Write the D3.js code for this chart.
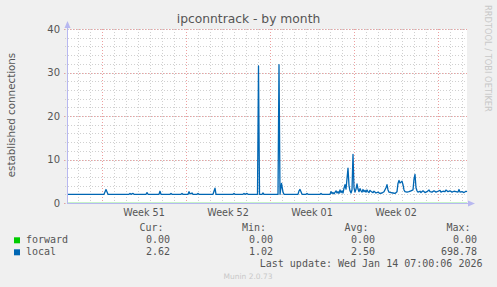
<!DOCTYPE html>
<html>
<head>
<meta charset="utf-8">
<script src="https://cdn.jsdelivr.net/npm/d3@7"></script>
<style>
  body { margin: 0; background: #f0f0f0; }
  text { font-family: "DejaVu Sans", sans-serif; fill: #555; }
  .mono { font-family: "DejaVu Sans Mono", monospace; }
</style>
</head>
<body>
<div id="chart"></div>
<script>
// hours since start of the graph (Dec 12 2025 02:00) and established connections
let localHours = [0, 74, 78, 82, 124, 126, 128, 132, 134, 158, 160, 162, 184, 186, 188,
  206, 208, 210, 228, 230, 232, 242, 244, 246, 250, 252, 260, 262, 264, 292, 296, 298,
  332, 334, 336, 352, 354, 356, 360, 362, 381, 383, 385, 390, 392, 394,
  422, 424, 426, 429, 432, 434, 462, 464, 466, 468, 470, 478, 480, 482, 506, 508, 510,
  526, 528, 530, 532, 534, 538, 540, 542, 544, 546, 548, 550, 552, 554, 556, 558, 562,
  564, 566, 568, 570, 572, 574, 576, 578, 580, 582, 584, 586, 588, 590, 592, 594, 596,
  598, 600, 602, 604, 606, 610, 612, 614, 618, 622, 626, 630, 634, 638, 640, 642, 644,
  648, 652, 656, 660, 662, 664, 666, 668, 670, 672, 674, 676, 680, 684, 688, 692, 694,
  696, 698, 700, 702, 706, 708, 712, 716, 720, 724, 726, 730, 734, 738, 742, 746, 748,
  752, 756, 758, 762, 766, 770, 774, 778, 782, 784, 786, 790, 794, 798, 800];
let localVals = [2.0, 2.0, 3.1, 2.0, 2.0, 2.2, 2.0, 2.2, 2.0, 2.0, 2.4, 2.0, 2.0, 2.7, 2.0,
  2.0, 2.2, 2.0, 2.0, 2.2, 2.0, 2.0, 2.6, 2.1, 2.3, 2.0, 2.0, 2.2, 2.0, 2.0, 3.4, 2.0,
  2.0, 2.2, 2.0, 2.0, 2.2, 2.0, 2.2, 2.0, 2.0, 31.5, 2.0, 2.0, 2.3, 2.0,
  2.0, 31.8, 2.0, 4.5, 2.5, 2.0, 2.0, 2.8, 3.1, 2.6, 2.0, 2.0, 2.2, 2.0, 2.0, 2.2, 2.0,
  2.0, 2.6, 2.2, 2.4, 2.1, 2.8, 2.3, 2.6, 2.2, 3.0, 2.4, 2.8, 2.3, 3.4, 4.2, 3.2, 8.0,
  4.0, 2.8, 2.3, 3.0, 11.2, 3.5, 2.5, 3.2, 4.4, 3.2, 2.6, 3.3, 2.8, 2.5, 3.1, 2.6, 2.9,
  2.5, 3.0, 2.6, 2.4, 2.9, 2.5, 2.4, 2.7, 2.3, 2.5, 2.2, 2.3, 2.6, 3.5, 4.2, 3.0, 2.5,
  2.4, 2.3, 2.2, 2.6, 4.5, 5.2, 4.6, 4.8, 5.0, 4.2, 3.0, 2.6, 2.5, 2.6, 2.8, 3.0, 5.5,
  6.6, 3.5, 2.8, 2.5, 2.7, 2.4, 2.8, 2.4, 2.6, 3.0, 2.6, 2.5, 2.8, 2.5, 2.7, 2.9, 2.5,
  2.7, 2.6, 3.0, 2.6, 2.8, 2.5, 2.7, 2.6, 2.5, 3.1, 2.5, 2.6, 2.4, 2.7, 2.6];
let forwardHours = [0, 800];
let forwardVals = [0, 0];

let legendNames = ["forward", "local"];
let legendColors = ["#00cc00", "#0066b3"];
let curVals = ["0.00", "2.62"];
let minVals = ["0.00", "1.02"];
let avgVals = ["0.00", "2.50"];
let maxVals = ["0.00", "698.78"];
let yTicks = [0, 10, 20, 30, 40];

let width = 497;
let height = 287;
let start = new Date(Date.UTC(2025, 11, 12, 2));
let end = new Date(start.getTime() + 800 * 3600e3);
let toDate = (h) => new Date(start.getTime() + h * 3600e3);

let x = d3.scaleUtc().domain([start, end]).range([67, 467]);
let y = d3.scaleLinear().domain([0, 40]).range([203, 29]);

let svg = d3.select("#chart").append("svg")
  .attr("width", width)
  .attr("height", height)
  .style("display", "block");

svg.append("rect").attr("width", width).attr("height", height).attr("fill", "#f0f0f0");
svg.append("rect")
  .attr("x", x.range()[0]).attr("y", y.range()[1])
  .attr("width", x.range()[1] - x.range()[0]).attr("height", y.range()[0] - y.range()[1])
  .attr("fill", "#fff");

// grid
let days = d3.utcDay.range(start, end);
let mondays = d3.utcMonday.range(start, end);
let grid = svg.append("g").attr("shape-rendering", "crispEdges");

grid.selectAll(".vmin").data(days).enter().append("line")
  .attr("x1", (d) => Math.round(x(d)) + 0.5).attr("x2", (d) => Math.round(x(d)) + 0.5)
  .attr("y1", y.range()[1]).attr("y2", y.range()[0] + 2)
  .attr("stroke", "#d0d0d0").attr("stroke-dasharray", "1,2");

let minorY = d3.range(0, 41, 2);
grid.selectAll(".hmin").data(minorY).enter().append("line")
  .attr("x1", x.range()[0] - 2).attr("x2", x.range()[1])
  .attr("y1", (d) => Math.round(y(d)) + 0.5).attr("y2", (d) => Math.round(y(d)) + 0.5)
  .attr("stroke", "#d0d0d0").attr("stroke-dasharray", "1,2");

grid.selectAll(".vmaj").data(mondays).enter().append("line")
  .attr("x1", (d) => Math.round(x(d)) + 0.5).attr("x2", (d) => Math.round(x(d)) + 0.5)
  .attr("y1", y.range()[1]).attr("y2", y.range()[0] + 3)
  .attr("stroke", "#eda0a0").attr("stroke-dasharray", "1,2");

grid.selectAll(".hmaj").data(yTicks).enter().append("line")
  .attr("x1", x.range()[0] - 3).attr("x2", x.range()[1])
  .attr("y1", (d) => Math.round(y(d)) + 0.5).attr("y2", (d) => Math.round(y(d)) + 0.5)
  .attr("stroke", "#eda0a0").attr("stroke-dasharray", "1,2");

// y tick labels
svg.selectAll(".ylab").data(yTicks).enter().append("text")
  .attr("x", 60).attr("y", (d) => y(d) + 3.5)
  .attr("text-anchor", "end").attr("font-size", 10)
  .text((d) => d);

// week labels centered in each week
let weekCenters = d3.utcMonday.range(d3.utcMonday.offset(start, -1), end)
  .map((d) => new Date(d.getTime() + 3.5 * 864e5))
  .filter((d) => d > start && d < end);
svg.selectAll(".xlab").data(weekCenters).enter().append("text")
  .attr("x", (d) => x(d)).attr("y", 216)
  .attr("text-anchor", "middle").attr("font-size", 9.6)
  .text((d) => "Week " + d3.utcFormat("%V")(d));

// series
let line = d3.line().x((d) => x(toDate(d[0]))).y((d) => y(d[1]));
svg.append("path")
  .datum(d3.zip(forwardHours, forwardVals))
  .attr("d", line)
  .attr("fill", "none").attr("stroke", "#00cc00").attr("stroke-opacity", 0.45)
  .attr("stroke-width", 1.2);
svg.append("path")
  .datum(d3.zip(localHours, localVals))
  .attr("d", line)
  .attr("fill", "none").attr("stroke", "#0066b3")
  .attr("stroke-width", 1.3).attr("stroke-linejoin", "round");

// axes with arrows
let axisColor = "#b8b8f0";
svg.append("line")
  .attr("x1", 67.5).attr("x2", 67.5).attr("y1", y.range()[0]).attr("y2", 24)
  .attr("stroke", axisColor);
svg.append("path").attr("d", "M64.5,28 L67.5,21 L70.5,28 Z").attr("fill", axisColor);
svg.append("line")
  .attr("x1", 67).attr("x2", 472).attr("y1", 203.5).attr("y2", 203.5)
  .attr("stroke", axisColor);
svg.append("path").attr("d", "M468,200.5 L475,203.5 L468,206.5 Z").attr("fill", axisColor);

// title and labels
svg.append("text")
  .attr("x", 248.5).attr("y", 23)
  .attr("text-anchor", "middle").attr("font-size", 12.3)
  .text("ipconntrack - by month");
svg.append("text")
  .attr("transform", "translate(14.5,115) rotate(-90)")
  .attr("text-anchor", "middle").attr("font-size", 10.3)
  .text("established connections");
svg.append("text")
  .attr("transform", "translate(484.5,5) rotate(90)")
  .attr("font-size", 8.3).style("fill", "#c8c8c8")
  .text("RRDTOOL / TOBI OETIKER");

// legend
let cols = [{ head: "Cur:", vals: curVals, hx: 163.5, vx: 170 },
            { head: "Min:", vals: minVals, hx: 266, vx: 273 },
            { head: "Avg:", vals: avgVals, hx: 368.5, vx: 375 },
            { head: "Max:", vals: maxVals, hx: 470.5, vx: 477 }];
let legend = svg.append("g").attr("font-size", 10);
cols.forEach((c) => {
  legend.append("text").attr("class", "mono")
    .attr("x", c.hx).attr("y", 230.5).attr("text-anchor", "end").text(c.head);
  legend.selectAll(null).data(c.vals).enter().append("text").attr("class", "mono")
    .attr("x", c.vx).attr("y", (d, i) => 243 + i * 12.4).attr("text-anchor", "end")
    .text((d) => d);
});
legendNames.forEach((n, i) => {
  legend.append("rect")
    .attr("x", 14).attr("y", 237.3 + i * 12)
    .attr("width", 6).attr("height", 6).attr("fill", legendColors[i]);
  legend.append("text").attr("class", "mono")
    .attr("x", 26).attr("y", 243 + i * 12.4).text(n);
});
legend.append("text").attr("class", "mono")
  .attr("x", 482.5).attr("y", 267).attr("text-anchor", "end")
  .text("Last update: Wed Jan 14 07:00:06 2026");

svg.append("text")
  .attr("x", 248).attr("y", 278.5)
  .attr("text-anchor", "middle").attr("font-size", 7.5).style("fill", "#c8c8c8")
  .text("Munin 2.0.73");
</script>
</body>
</html>
